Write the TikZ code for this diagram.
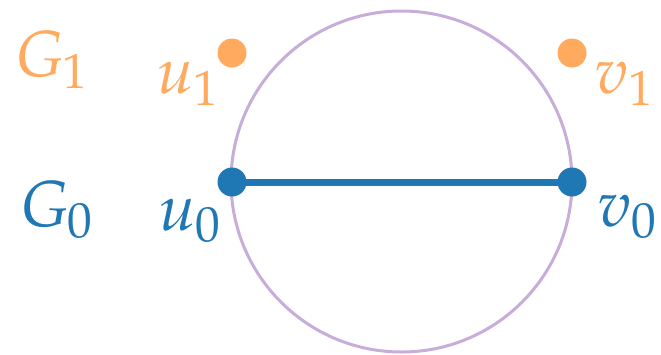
\documentclass[tikz,border=0pt]{standalone}
\usepackage{mathpazo}
\definecolor{cblue}{RGB}{31,119,180}
\definecolor{corange}{RGB}{255,170,94}
\definecolor{cpurple}{RGB}{200,172,217}
\begin{document}
\begin{tikzpicture}[x=1pt,y=-1pt,
  lbl/.style={inner sep=0pt,anchor=base west,font=\fontsize{65}{72}\selectfont},
  dotnode/.style={circle,fill=#1,inner sep=0pt,minimum size=29pt}]
\useasboundingbox (0,0) rectangle (661,354);
\draw[cpurple,line width=3pt] (401.5,181.5) circle (170.5);
\node[dotnode=cblue] (u0) at (232,182) {};
\node[dotnode=cblue] (v0) at (572,182) {};
\draw[cblue,line width=7pt] (u0.center) -- (v0.center);
\node[dotnode=corange] (u1) at (232,53) {};
\node[dotnode=corange] (v1) at (572,53) {};
\node[lbl,text=corange] (g1) at (15,76) {$G_1$};
\node[lbl,text=cblue] (g0) at (20,226) {$G_0$};
\node[lbl,text=corange] (lu1) at (156,93) {$u_1$};
\node[lbl,text=cblue] (lu0) at (158,230) {$u_0$};
\node[lbl,text=corange] (lv1) at (594,93) {$v_1$};
\node[lbl,text=cblue] (lv0) at (597,226) {$v_0$};
\end{tikzpicture}
\end{document}
